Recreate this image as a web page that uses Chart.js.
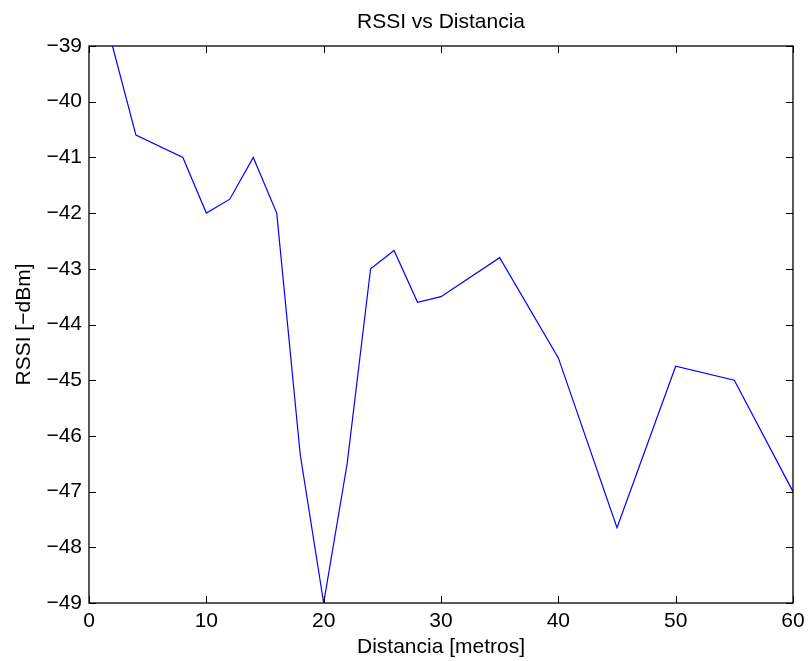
<!DOCTYPE html>
<html>
<head>
<meta charset="utf-8">
<script src="https://cdn.jsdelivr.net/npm/chart.js@4/dist/chart.umd.min.js"></script>
<style>
html,body{margin:0;padding:0;background:#fff;}
#wrap{width:808px;height:661px;}
</style>
</head>
<body>
<div id="wrap"><canvas id="c" width="808" height="661"></canvas></div>
<script>
const distances = [2, 4, 8, 10, 12, 14, 16, 18, 20, 22, 24, 26, 28, 30, 35, 40, 45, 50, 55, 60];
const rssi = [-39, -40.6, -41, -42, -41.75, -41, -42, -46.33, -49, -46.5, -43, -42.67, -43.6, -43.5, -42.8, -44.6, -47.65, -44.75, -45, -47];
const xTicks = [0, 10, 20, 30, 40, 50, 60];
const yTicks = [-49, -48, -47, -46, -45, -44, -43, -42, -41, -40, -39];

const FONT = "'Liberation Sans', Arial, sans-serif";
const fmt = v => String(v).replace('-', '\u2212');

const frameTicks = {
  id: 'frameTicks',
  afterDatasetsDraw(chart) {
    const {ctx, chartArea: a, scales: {x, y}} = chart;
    const L = 7;
    ctx.save();
    ctx.strokeStyle = '#000';
    ctx.lineWidth = 1;
    ctx.beginPath();
    xTicks.forEach(v => {
      const px = Math.round(x.getPixelForValue(v)) + 0.5;
      ctx.moveTo(px, a.bottom); ctx.lineTo(px, a.bottom - L);
      ctx.moveTo(px, a.top); ctx.lineTo(px, a.top + L);
    });
    yTicks.forEach(v => {
      const py = Math.round(y.getPixelForValue(v)) + 0.5;
      ctx.moveTo(a.left, py); ctx.lineTo(a.left + L, py);
      ctx.moveTo(a.right, py); ctx.lineTo(a.right - L, py);
    });
    ctx.stroke();
    ctx.lineWidth = 1.3;
    ctx.strokeRect(a.left, a.top, a.right - a.left, a.bottom - a.top);
    ctx.restore();
  }
};

new Chart(document.getElementById('c'), {
  type: 'scatter',
  data: {
    datasets: [{
      data: distances.map((d, i) => ({x: d, y: rssi[i]})),
      showLine: true,
      borderColor: '#0000ff',
      borderWidth: 1.2,
      pointRadius: 0,
      fill: false,
      tension: 0
    }]
  },
  options: {
    responsive: false,
    animation: false,
    layout: {padding: {left: 0, right: 15, top: 0, bottom: 0}},
    plugins: {
      legend: {display: false},
      tooltip: {enabled: false},
      title: {
        display: true,
        fullSize: false,
        text: 'RSSI vs Distancia',
        color: '#000',
        font: {family: FONT, size: 21, weight: 'normal'},
        padding: {top: 10, bottom: 10.8}
      }
    },
    scales: {
      x: {
        type: 'linear',
        min: 0, max: 60,
        afterFit(s) { s.height = 58; s.paddingLeft = 0; s.paddingRight = 0; },
        afterBuildTicks(s) { s.ticks = xTicks.map(v => ({value: v})); },
        grid: {display: false, drawTicks: false},
        border: {display: false},
        ticks: {color: '#000', font: {family: FONT, size: 21}, padding: 6, maxRotation: 0, callback: v => fmt(v)},
        title: {display: true, text: 'Distancia [metros]', color: '#000', font: {family: FONT, size: 21}, padding: {top: 0, bottom: 1}}
      },
      y: {
        type: 'linear',
        min: -49, max: -39,
        afterFit(s) { s.width = 89; s.paddingTop = 0; s.paddingBottom = 0; },
        afterBuildTicks(s) { s.ticks = yTicks.map(v => ({value: v})); },
        grid: {display: false, drawTicks: false},
        border: {display: false},
        ticks: {color: '#000', font: {family: FONT, size: 21}, padding: 7, callback: v => fmt(v)},
        title: {display: true, text: 'RSSI [\u2212dBm]', color: '#000', font: {family: FONT, size: 21}, padding: {top: 12, bottom: 0}}
      }
    }
  },
  plugins: [frameTicks]
});
</script>
</body>
</html>
